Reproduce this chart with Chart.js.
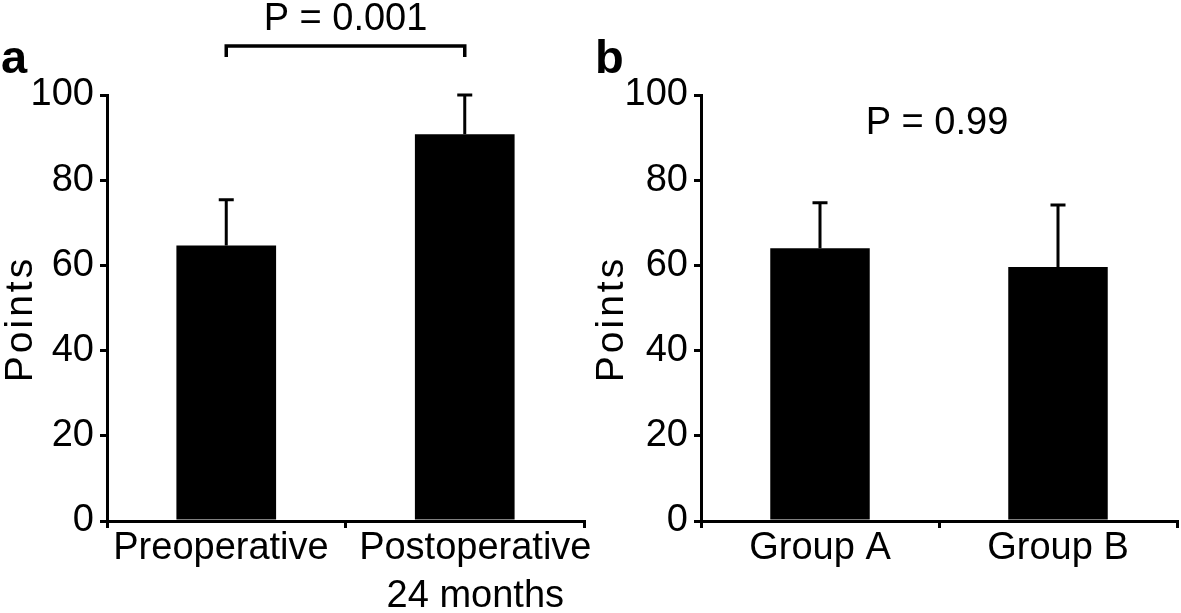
<!DOCTYPE html>
<html>
<head>
<meta charset="utf-8">
<script src="https://cdn.jsdelivr.net/npm/chart.js@4.4.1/dist/chart.umd.min.js"></script>
<style>
  html, body { margin: 0; padding: 0; background: #fff; }
  #wrap { position: relative; width: 1181px; height: 613px; }
  .panel { position: absolute; top: 0; height: 613px; }
  #panelA { left: 0; width: 590px; }
  #panelB { left: 590px; width: 591px; }
</style>
</head>
<body>
<div id="wrap">
  <div class="panel" id="panelA"><canvas id="chartA"></canvas></div>
  <div class="panel" id="panelB"><canvas id="chartB"></canvas></div>
</div>
<script>
const FONT = '"Liberation Sans", Arial, Helvetica, sans-serif';

// Panel a
const labelsA = ["Preoperative", ["Postoperative", "24 months"]];
const meansA = [64.7, 90.8];
const sdA = [10.7, 9.2];
const pTextA = "P = 0.001";

// Panel b
const labelsB = ["Group A", "Group B"];
const meansB = [64.0, 59.6];
const sdB = [10.7, 14.6];
const pTextB = "P = 0.99";

const yTicks = [0, 20, 40, 60, 80, 100];
const yTitle = "Points";

// error bars, p-value text, bracket, panel letter and axis title
const extras = {
  id: "extras",
  afterDraw(chart, args, opts) {
    const ctx = chart.ctx;
    const y = chart.scales.y;
    const area = chart.chartArea;
    const bars = chart.getDatasetMeta(0).data;
    ctx.save();
    ctx.strokeStyle = "#000";
    ctx.fillStyle = "#000";
    ctx.lineWidth = 3;
    ctx.lineCap = "butt";

    // upper error bars only
    bars.forEach((bar, i) => {
      const top = y.getPixelForValue(opts.means[i] + opts.sd[i]);
      ctx.beginPath();
      ctx.moveTo(bar.x, bar.y);
      ctx.lineTo(bar.x, top);
      ctx.moveTo(bar.x - 7.5, top);
      ctx.lineTo(bar.x + 7.5, top);
      ctx.stroke();
    });

    ctx.font = "38px " + FONT;
    ctx.textAlign = "center";
    ctx.textBaseline = "alphabetic";
    if (opts.bracket) {
      const x1 = bars[0].x, x2 = bars[1].x;
      ctx.lineWidth = 3.5;
      ctx.lineJoin = "miter";
      ctx.beginPath();
      ctx.moveTo(x1, 57);
      ctx.lineTo(x1, 46);
      ctx.lineTo(x2, 46);
      ctx.lineTo(x2, 57);
      ctx.stroke();
      ctx.fillText(opts.pText, (x1 + x2) / 2, 30);
    } else {
      ctx.fillText(opts.pText, (area.left + area.right) / 2 - 2, 134);
    }

    // panel letter
    ctx.font = "bold 47px " + FONT;
    ctx.textAlign = "left";
    ctx.fillText(opts.letter, opts.letterX, 73);

    // y axis title
    ctx.font = "39px " + FONT;
    ctx.letterSpacing = "3px";
    ctx.translate(opts.titleX, 321);
    ctx.rotate(-Math.PI / 2);
    ctx.textAlign = "center";
    ctx.fillText(yTitle, 2, 0);
    ctx.restore();
  },
};

// panel a labels sit a little apart from the bar centres in the figure
function spreadLabels(value, index) {
  const lab = this.getLabelForValue(value);
  if (index === 0) return lab + " ";
  return [].concat(lab).map((s) => "  " + s);
}

function makeChart(id, labels, means, sd, extra, yWidth, padRight, tickCb) {
  return new Chart(document.getElementById(id), {
    type: "bar",
    data: {
      labels: labels,
      datasets: [
        {
          data: means,
          backgroundColor: "#000",
          borderWidth: 0,
          barPercentage: 0.418,
          categoryPercentage: 1,
        },
      ],
    },
    options: {
      responsive: true,
      maintainAspectRatio: false,
      animation: false,
      layout: { padding: { top: 95, right: padRight, bottom: 0, left: 0 } },
      plugins: {
        legend: { display: false },
        tooltip: { enabled: false },
        extras: Object.assign({ means: means, sd: sd }, extra),
      },
      scales: {
        x: {
          grid: {
            drawOnChartArea: false,
            tickLength: 7,
            color: "#000",
            lineWidth: 3,
            offset: true,
          },
          border: { color: "#000", width: 3 },
          ticks: {
            color: "#000",
            font: { family: FONT, size: 38, lineHeight: 1.25 },
            padding: -3,
            maxRotation: 0,
            autoSkip: false,
            callback: tickCb,
          },
          afterFit: (s) => {
            s.height = 92;
          },
        },
        y: {
          min: 0,
          max: 100,
          afterBuildTicks: (s) => {
            s.ticks = yTicks.map((v) => ({ value: v }));
          },
          grid: {
            drawOnChartArea: false,
            tickLength: 7,
            color: "#000",
            lineWidth: 3,
          },
          border: { color: "#000", width: 3 },
          ticks: {
            color: "#000",
            font: { family: FONT, size: 38 },
            padding: 6,
          },
          afterFit: (s) => {
            s.width = yWidth;
          },
        },
      },
    },
    plugins: [extras],
  });
}

makeChart("chartA", labelsA, meansA, sdA,
  { pText: pTextA, bracket: true, letter: "a", letterX: 1, titleX: 32 }, 107, 6, spreadLabels);
makeChart("chartB", labelsB, meansB, sdB,
  { pText: pTextB, bracket: false, letter: "b", letterX: 5, titleX: 33 }, 111, 4,
  function (value) { return this.getLabelForValue(value); });
</script>
</body>
</html>
